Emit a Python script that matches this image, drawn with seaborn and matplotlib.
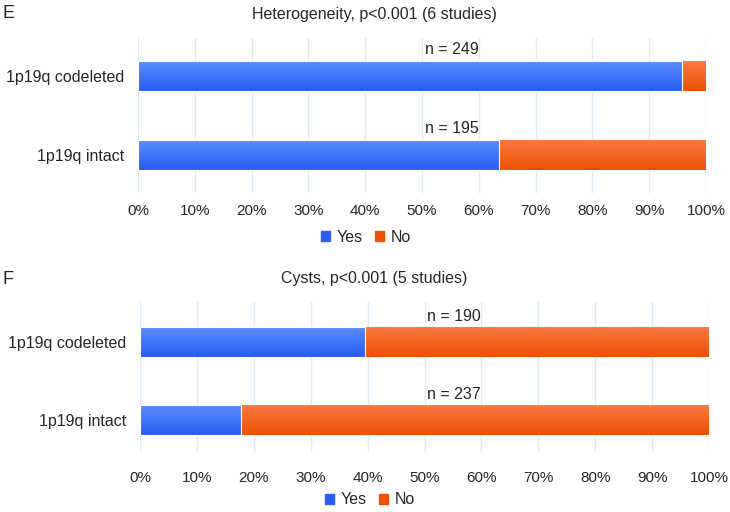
import numpy as np
import pandas as pd
import matplotlib
matplotlib.use("Agg")
import matplotlib.pyplot as plt
import seaborn as sns
from matplotlib.patches import Patch
from matplotlib.colors import LinearSegmentedColormap

# data
groups = ["1p19q codeleted", "1p19q intact"]
het_yes = [95.8, 63.6]
cyst_yes = [39.5, 17.7]
het_n = [249, 195]
cyst_n = [190, 237]
panels = ["E", "F"]
titles = ["Heterogeneity, p<0.001 (6 studies)", "Cysts, p<0.001 (5 studies)"]
ticks = list(range(0, 101, 10))

sns.set_style("white")
plt.rcParams["font.family"] = ["Liberation Sans", "DejaVu Sans"]

blue_top, blue_bot = "#5b8ffb", "#2a5cf6"
orange_top, orange_bot = "#f97b45", "#ef5100"

W, H = 730, 512
fig = plt.figure(figsize=(7.3, 5.12), dpi=100)


def px_axes(left, right, top, bottom):
    return fig.add_axes([left / W, 1 - bottom / H, (right - left) / W, (bottom - top) / H])


ax_e = px_axes(138, 706, 38, 193)
ax_f = px_axes(140, 709, 302, 452)


def gradient_fill(ax, bars, top, bot):
    cmap = LinearSegmentedColormap.from_list("g", [top, bot])
    grad = np.linspace(0, 1, 64).reshape(-1, 1)
    for b in bars:
        x0, y0 = b.get_x(), b.get_y()
        w, h = b.get_width(), b.get_height()
        im = ax.imshow(grad, cmap=cmap, aspect="auto", origin="upper",
                       extent=[x0, x0 + w, y0 + h, y0], zorder=3)
        im.set_clip_path(b)


def draw(ax, yes, ns, ylim, tickpad):
    df = pd.DataFrame({"group": groups, "Yes": yes})
    df["Total"] = 100
    sns.barplot(data=df, y="group", x="Total", color=orange_bot, width=0.39,
                orient="h", ax=ax, zorder=2)
    no_bars = list(ax.patches)
    sns.barplot(data=df, y="group", x="Yes", color=blue_bot, width=0.39,
                orient="h", ax=ax, zorder=2)
    yes_bars = list(ax.patches)[len(no_bars):]
    gradient_fill(ax, no_bars, orange_top, orange_bot)
    gradient_fill(ax, yes_bars, blue_top, blue_bot)
    for b in no_bars + yes_bars:
        b.set_edgecolor("white")
        b.set_linewidth(0.8)
    for b in yes_bars:
        b.set_zorder(4)
        b.set_facecolor("none")

    ax.set_xlim(0, 100)
    ax.set_ylim(*ylim)
    ax.set_xticks(ticks)
    ax.set_xticklabels([f"{t}%" for t in ticks], fontsize=11)
    ax.tick_params(axis="y", labelsize=11.5, length=0, pad=10)
    ax.tick_params(axis="x", length=0, pad=tickpad)
    ax.set_xlabel("")
    ax.set_ylabel("")
    ax.grid(axis="x", color="#dcecf7", linewidth=1, zorder=0)
    ax.set_axisbelow(True)
    sns.despine(ax=ax, left=True, bottom=True)

    for i, n in enumerate(ns):
        ax.text(55.2, i - 0.33, f"n = {n}", ha="center", va="center", fontsize=11.5)


draw(ax_e, het_yes, het_n, (1.48, -0.48), 8)
draw(ax_f, cyst_yes, cyst_n, (1.41, -0.513), 14)

handles = [Patch(color=blue_bot, label="Yes"), Patch(color=orange_bot, label="No")]
for letter, title, ty, lx, ly in [(panels[0], titles[0], 14, 366, 237),
                                  (panels[1], titles[1], 279, 370, 500)]:
    fig.text(3 / W, 1 - ty / H, letter, fontsize=13, ha="left", va="center")
    fig.text(374 / W, 1 - ty / H, title, fontsize=11.5, ha="center", va="center")
    fig.legend(handles=handles, loc="center", bbox_to_anchor=(lx / W, 1 - ly / H),
               ncol=2, frameon=False, fontsize=11.5, handlelength=0.55,
               handleheight=0.55, handletextpad=0.4, columnspacing=0.8,
               borderpad=0)

fig.savefig("out.png", dpi=100)
